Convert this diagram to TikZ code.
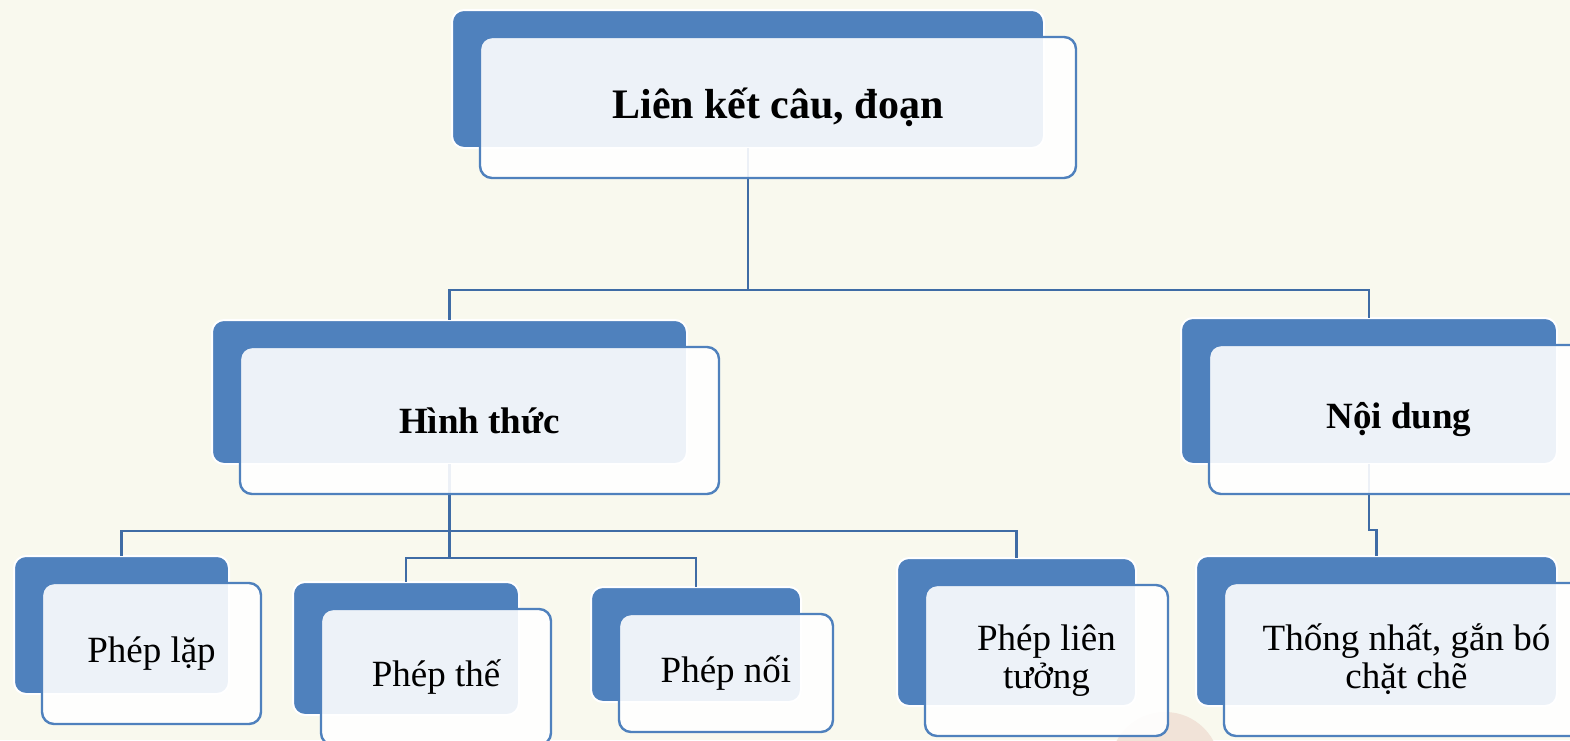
\documentclass[tikz,border=0pt]{standalone}
\usepackage{fontspec}
\setmainfont{Liberation Serif}
\definecolor{smartblue}{HTML}{4F81BD}
\definecolor{linkblue}{HTML}{3F6CA5}
\definecolor{cream}{HTML}{F9F9EE}
\definecolor{peach}{HTML}{F1E3D8}

\begin{document}
\begin{tikzpicture}[x=0.5pt,y=-0.5pt,
  backbox/.style={draw=white,line width=1pt,fill=smartblue,rounded corners=6pt,
    anchor=north west,outer sep=0pt,inner sep=0pt},
  frontbox/.style={draw=smartblue,line width=1.2pt,fill=white,fill opacity=0.9,
    draw opacity=1,text opacity=1,rounded corners=6pt,anchor=north west,outer sep=0pt,
    inner sep=0pt,align=center,font=\fontsize{18.5}{19}\selectfont},
  headtext/.style={font=\fontsize{18.5}{19}\selectfont\bfseries},
  link/.style={draw=linkblue,line width=1.4pt}]
  % page and its cream background
  \useasboundingbox (0,0) rectangle (1570,740);
  \clip (0,0) rectangle (1570,740);
  \fill[cream] (0,0) rectangle (1570,740);
  \fill[peach] (1165,767) circle[radius=27.5pt];
  % back (blue) boxes
  \node[backbox,minimum width=296pt,minimum height=69pt]   (topB)       at (452,10)   {};
  \node[backbox,minimum width=237.5pt,minimum height=72pt] (hinhthucB)  at (212,320)  {};
  \node[backbox,minimum width=188pt,minimum height=73pt]   (noidungB)   at (1181,318) {};
  \node[backbox,minimum width=107.5pt,minimum height=69pt] (lapB)       at (14,556)   {};
  \node[backbox,minimum width=113pt,minimum height=66.5pt] (theB)       at (293,582)  {};
  \node[backbox,minimum width=105pt,minimum height=57.5pt] (noiB)       at (591,587)  {};
  \node[backbox,minimum width=119.5pt,minimum height=74pt] (lientuongB) at (897,558)  {};
  \node[backbox,minimum width=180.5pt,minimum height=75pt] (thongnhatB) at (1196,556) {};
  % connectors, from back box to back box
  \draw[link] (topB.south) -- ++(0,142) -| (hinhthucB.north);
  \draw[link] (topB.south) -- ++(0,142) -| (noidungB.north);
  \draw[link] (hinhthucB.south) -- ++(0,67) -| (lapB.north);
  \draw[link] (hinhthucB.south) -- ++(0,67) -| (lientuongB.north);
  \draw[link] (hinhthucB.south) -- ++(0,94) -| (theB.north);
  \draw[link] (hinhthucB.south) -- ++(0,94) -| (noiB.north);
  \draw[link] (noidungB.south) |- ([yshift=13pt]thongnhatB.north) -- (thongnhatB.north);
  % front (light) boxes with the texts
  \node[frontbox,minimum width=298pt,minimum height=70.5pt,font=\fontsize{21}{23}\selectfont\bfseries]
    (top) at ([shift={(28,27)}]topB.north west) {Liên kết câu, đoạn};
  \node[frontbox,headtext,minimum width=239.5pt,minimum height=73.5pt]
    (hinhthuc) at ([shift={(28,27)}]hinhthucB.north west) {Hình thức};
  \node[frontbox,headtext,minimum width=190pt,minimum height=74.5pt]
    (noidung) at ([shift={(28,27)}]noidungB.north west) {Nội dung};
  \node[frontbox,minimum width=109.5pt,minimum height=70.5pt]
    (lap) at ([shift={(28,27)}]lapB.north west) {Phép lặp};
  \node[frontbox,minimum width=115pt,minimum height=68pt]
    (the) at ([shift={(28,27)}]theB.north west) {Phép thế};
  \node[frontbox,minimum width=107pt,minimum height=59pt]
    (noi) at ([shift={(28,27)}]noiB.north west) {Phép nối};
  \node[frontbox,minimum width=121.5pt,minimum height=75.5pt]
    (lientuong) at ([shift={(28,27)}]lientuongB.north west) {Phép liên\\tưởng};
  \node[frontbox,minimum width=182.5pt,minimum height=76.5pt]
    (thongnhat) at ([shift={(28,27)}]thongnhatB.north west) {Thống nhất, gắn bó\\chặt chẽ};
\end{tikzpicture}
\end{document}
